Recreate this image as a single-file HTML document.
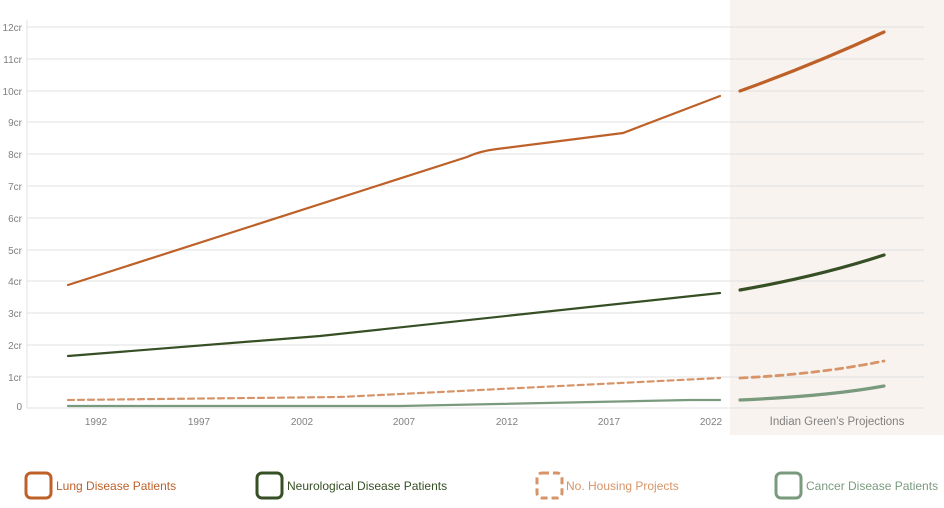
<!DOCTYPE html>
<html><head><meta charset="utf-8"><style>
body{margin:0;background:#fff;width:944px;height:503px;overflow:hidden;font-family:"Liberation Sans",sans-serif}
</style></head><body>
<svg width="944" height="503" xmlns="http://www.w3.org/2000/svg">
<rect x="730" y="0" width="214" height="435" fill="#f9f3ef"/>
<g stroke="#e0e0e0" stroke-width="1">
<line x1="27" y1="27" x2="924" y2="27"/><line x1="27" y1="59" x2="924" y2="59"/>
<line x1="27" y1="91" x2="924" y2="91"/><line x1="27" y1="122" x2="924" y2="122"/>
<line x1="27" y1="154" x2="924" y2="154"/><line x1="27" y1="186" x2="924" y2="186"/>
<line x1="27" y1="218" x2="924" y2="218"/><line x1="27" y1="250" x2="924" y2="250"/>
<line x1="27" y1="281" x2="924" y2="281"/><line x1="27" y1="313" x2="924" y2="313"/>
<line x1="27" y1="345" x2="924" y2="345"/><line x1="27" y1="377" x2="924" y2="377"/>
<line x1="27" y1="408" x2="924" y2="408"/><line x1="27" y1="20" x2="27" y2="408"/>
</g>
<g font-size="10" fill="#808080" text-anchor="end">
<text x="22" y="31">12cr</text><text x="22" y="63">11cr</text><text x="22" y="95">10cr</text>
<text x="22" y="126">9cr</text><text x="22" y="158">8cr</text><text x="22" y="190">7cr</text>
<text x="22" y="222">6cr</text><text x="22" y="254">5cr</text><text x="22" y="285">4cr</text>
<text x="22" y="317">3cr</text><text x="22" y="349">2cr</text><text x="22" y="381">1cr</text>
<text x="22" y="410">0</text>
</g>
<g font-size="10" fill="#808080" text-anchor="middle">
<text x="96" y="425">1992</text><text x="199" y="425">1997</text><text x="302" y="425">2002</text>
<text x="404" y="425">2007</text><text x="507" y="425">2012</text><text x="609" y="425">2017</text>
<text x="711" y="425">2022</text>
<text x="837" y="425" font-size="11.5">Indian Green’s Projections</text>
</g>
<g fill="none" stroke-linecap="round">
<path d="M68,285 L467,157 Q480,151 497,149 L623,133 L720,96" stroke="#be6129" stroke-width="2.2"/>
<path d="M740,91 Q815,64 884,32" stroke="#be6129" stroke-width="3.2"/>
<path d="M68,356 L320,336 L720,293" stroke="#364f24" stroke-width="2.2"/>
<path d="M740,290 Q820,276 884,255" stroke="#364f24" stroke-width="3.2"/>
<path d="M68,400 L340,397 L720,378" stroke="#d79468" stroke-width="2.2" stroke-dasharray="6,4"/>
<path d="M740,378 Q820,374 884,361" stroke="#d79468" stroke-width="2.8" stroke-dasharray="7,5"/>
<path d="M68,406 L400,406 L690,400 L720,400" stroke="#7a9a7e" stroke-width="2.2"/>
<path d="M740,400 Q830,396 884,386" stroke="#7a9a7e" stroke-width="3.2"/>
</g>
<g fill="none" stroke-width="3">
<rect x="26" y="473" width="25" height="25" rx="5" stroke="#be6129"/>
<rect x="257" y="473" width="25" height="25" rx="5" stroke="#364f24"/>
<rect x="537" y="473" width="25" height="25" rx="5" stroke="#d79468" stroke-dasharray="7,4"/>
<rect x="776" y="473" width="25" height="25" rx="5" stroke="#7a9a7e"/>
</g>
<g font-size="12">
<text x="56" y="490" fill="#be6129">Lung Disease Patients</text>
<text x="287" y="490" fill="#364f24">Neurological Disease Patients</text>
<text x="566" y="490" fill="#d79468">No. Housing Projects</text>
<text x="806" y="490" fill="#7a9a7e">Cancer Disease Patients</text>
</g>
</svg>
</body></html>
